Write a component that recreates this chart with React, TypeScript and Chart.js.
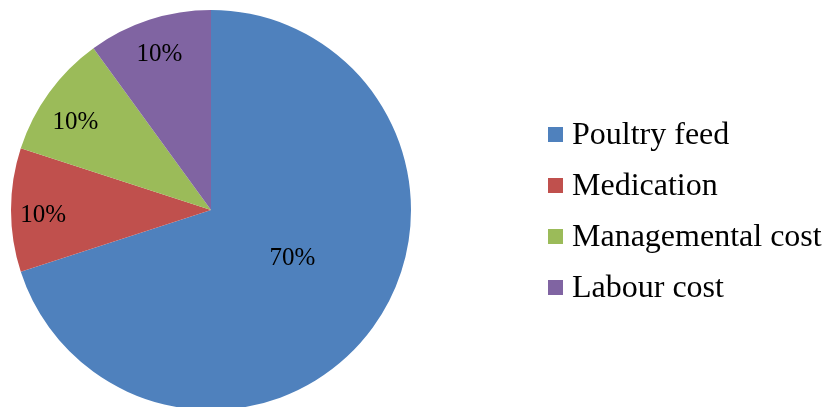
import React, { useEffect, useRef } from "react";
import { Chart, registerables } from "chart.js";

Chart.register(...registerables);

const categories = ["Poultry feed", "Medication", "Managemental cost", "Labour cost"];
const values = [70, 10, 10, 10];
const colors = ["#4F81BD", "#C0504D", "#9BBB59", "#8064A2"];
const labelRadiusFractions = [0.47, 0.84, 0.81, 0.826];
const labelAngleShiftDeg = [-6, -1.4, -2.8, -0.2];

const labelsPlugin = {
  id: "customLabels",
  afterDatasetsDraw(chart: any) {
    const ctx = chart.ctx;
    const meta = chart.getDatasetMeta(0);
    ctx.save();
    ctx.font = '25px "Liberation Serif"';
    ctx.fillStyle = "#000";
    ctx.textAlign = "center";
    ctx.textBaseline = "middle";
    meta.data.forEach((arc: any, i: number) => {
      const p = arc.getProps(["x", "y", "startAngle", "endAngle", "outerRadius"], true);
      const mid = (p.startAngle + p.endAngle) / 2 + (labelAngleShiftDeg[i] * Math.PI) / 180;
      const r = p.outerRadius * labelRadiusFractions[i];
      ctx.fillText(values[i] + "%", p.x + Math.cos(mid) * r, p.y + Math.sin(mid) * r + 1);
    });
    // legend
    ctx.font = '32px "Liberation Serif"';
    ctx.textAlign = "left";
    categories.forEach((c, i) => {
      const cy = 134.5 + i * 51;
      ctx.fillStyle = colors[i];
      ctx.fillRect(548, cy - 7.5, 15, 15);
      ctx.fillStyle = "#000";
      ctx.fillText(c, 572, cy + 1);
    });
    ctx.restore();
  },
};

export default function App() {
  const ref = useRef<HTMLCanvasElement>(null);
  useEffect(() => {
    document.body.style.margin = "0";
    const chart = new Chart(ref.current!, {
      type: "pie",
      data: {
        labels: categories,
        datasets: [
          {
            data: values,
            backgroundColor: colors,
            borderWidth: 0,
            radius: 200,
          } as any,
        ],
      },
      options: {
        responsive: false,
        animation: false,
        layout: { padding: { left: 0, top: 13, bottom: 0, right: 405 } },
        plugins: {
          legend: { display: false },
          tooltip: { enabled: false },
        },
      },
      plugins: [labelsPlugin],
    });
    return () => chart.destroy();
  }, []);
  return (
    <div style={{ width: 827, height: 407, background: "#fff" }}>
      <canvas ref={ref} width={827} height={407} style={{ display: "block" }} />
    </div>
  );
}
